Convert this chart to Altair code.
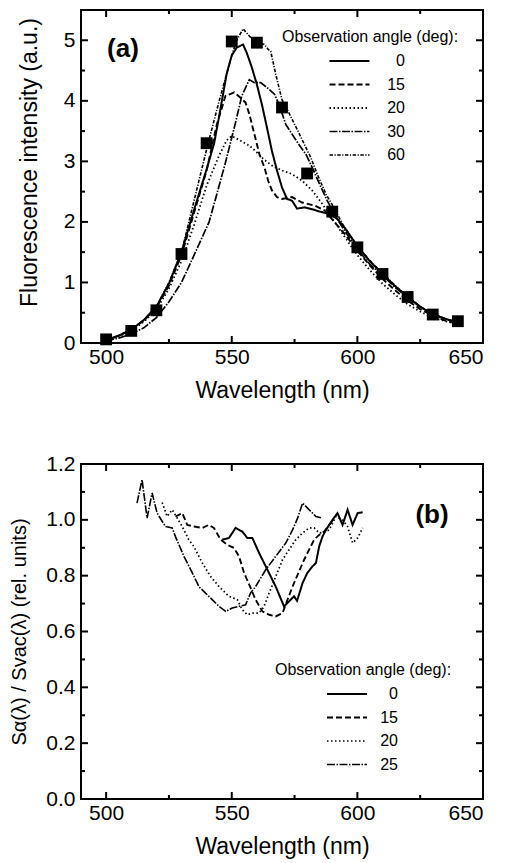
import altair as alt
import pandas as pd

FONT = "Liberation Sans"

# ---------------- Panel (a): fluorescence spectra ----------------
A_ANGLES = ["0", "15", "20", "30", "60"]
A_DASH = [[1, 0], [6, 3], [1.5, 2.5], [8, 1.5, 1.5, 1.5], [3.5, 1.5, 1.2, 1.5]]
A_WIDTH = [2.0, 1.6, 1.4, 1.3, 1.2]

A0_WL = [500, 505, 510, 515, 520, 525, 530, 535, 540, 543, 545, 548, 550, 552, 554.5, 556, 558, 560,
         562, 564, 566, 568, 570, 572, 574, 576, 579, 582, 585, 589, 592, 595, 600, 605, 610, 615,
         620, 625, 630, 635, 640]
A0_I = [0.05, 0.12, 0.22, 0.38, 0.6, 0.98, 1.5, 2.2, 2.87, 3.3, 3.75, 4.45, 4.75, 4.88, 4.93, 4.79,
        4.55, 4.27, 3.94, 3.56, 3.17, 2.85, 2.57, 2.38, 2.35, 2.22, 2.24, 2.21, 2.17, 2.13, 2.05, 1.9,
        1.6, 1.35, 1.14, 0.94, 0.76, 0.6, 0.47, 0.4, 0.33]

A15_WL = [500, 505, 510, 515, 520, 525, 530, 535, 540, 544, 547.5, 551, 553.5, 555.5, 557, 559, 561,
          563, 564.5, 566, 568, 570, 574, 578, 583, 587, 591, 595, 600, 605, 610, 615, 620, 625, 630,
          635, 640]
A15_I = [0.05, 0.12, 0.22, 0.37, 0.58, 0.95, 1.45, 2.15, 2.85, 3.6, 4.08, 4.14, 4.05, 3.97, 3.78,
         3.45, 3.12, 2.9, 2.68, 2.52, 2.41, 2.38, 2.41, 2.32, 2.27, 2.19, 1.99, 1.8, 1.52, 1.28, 1.06,
         0.87, 0.7, 0.56, 0.45, 0.37, 0.31]

A20_WL = [500, 505, 510, 515, 520, 525, 530, 535, 540, 545, 548, 550, 553.5, 557, 559.5, 562, 566,
          570, 574, 578, 582, 586, 590, 595, 600, 605, 610, 615, 620, 625, 630, 635, 640]
A20_I = [0.05, 0.11, 0.2, 0.35, 0.55, 0.9, 1.35, 1.95, 2.6, 3.1, 3.35, 3.42, 3.34, 3.26, 3.17, 3.06,
         2.93, 2.85, 2.79, 2.68, 2.52, 2.3, 2.06, 1.75, 1.45, 1.2, 0.98, 0.8, 0.64, 0.52, 0.42, 0.36,
         0.31]

A30_WL = [500, 505, 510, 515, 520, 525, 530, 535, 541, 544, 547.5, 551.5, 554, 557, 559, 561.5, 564,
          567, 569, 571.5, 574, 577, 579.5, 582, 585, 588, 591.5, 595, 600, 605, 610, 615, 620, 625,
          630, 635, 640]
A30_I = [0.04, 0.08, 0.15, 0.25, 0.42, 0.68, 1.0, 1.45, 2.0, 2.45, 2.98, 3.64, 4.08, 4.35, 4.3, 4.3,
         4.22, 4.11, 3.92, 3.61, 3.45, 3.26, 3.12, 2.9, 2.62, 2.35, 2.08, 1.85, 1.55, 1.3, 1.12, 0.92,
         0.75, 0.6, 0.48, 0.4, 0.34]

A60_WL = [500, 505, 510, 515, 520, 525, 530, 535, 540, 545, 550, 552, 554.5, 557, 559, 563, 564.5,
          565.5, 567.5, 570, 573, 576, 579.5, 581.5, 584, 587.5, 591, 594, 600, 605, 610, 615, 620,
          625, 630, 635, 640]
A60_I = [0.05, 0.12, 0.22, 0.38, 0.6, 1.0, 1.5, 2.35, 3.2, 4.0, 4.75, 5.0, 5.19, 5.07, 4.99, 4.93,
         4.85, 4.82, 4.44, 4.02, 3.78, 3.53, 3.23, 3.06, 2.79, 2.46, 2.21, 1.97, 1.6, 1.36, 1.15, 0.95,
         0.77, 0.6, 0.48, 0.4, 0.34]

MARK_WL = [500, 510, 520, 530, 540, 550, 560, 570, 580, 590, 600, 610, 620, 630, 640]
MARK_I = [0.06, 0.2, 0.54, 1.47, 3.3, 4.98, 4.96, 3.89, 2.8, 2.17, 1.58, 1.14, 0.76, 0.47, 0.36]

# ---------------- Panel (b): ratio spectra ----------------
B_ANGLES = ["0", "15", "20", "25"]
B_DASH = [[1, 0], [6, 3], [1.5, 2.5], [8, 1.5, 1.5, 1.5]]
B_WIDTH = [2.0, 1.6, 1.4, 1.3]

B0_WL = [546.2, 548.9, 551.5, 554.2, 556.2, 558.2, 560.9, 564.2, 567.5, 570.8, 572.8, 574.8, 576.0,
         578.2, 580.1, 582.1, 583.5, 584.8, 586.1, 587.5, 590.1, 592.1, 594.1, 596.1, 598.1, 600.1,
         602.1]
B0_R = [0.929, 0.935, 0.971, 0.958, 0.935, 0.935, 0.881, 0.821, 0.761, 0.69, 0.708, 0.726, 0.71,
        0.774, 0.81, 0.833, 0.845, 0.905, 0.94, 0.964, 1.0, 1.024, 0.982, 1.036, 0.982, 1.024, 1.027]

B15_WL = [527.6, 530.3, 532.3, 535.0, 538.3, 540.9, 542.9, 545.6, 548.2, 550.9, 552.9, 554.9, 557.5,
          559.5, 562.2, 564.9, 567.5, 570.2, 572.2, 574.2, 576.2, 578.8, 580.8, 582.8, 584.8, 586.8,
          588.8, 590.5]
B15_R = [1.012, 1.024, 0.982, 0.976, 0.971, 0.982, 0.971, 0.929, 0.911, 0.899, 0.869, 0.81, 0.756,
         0.714, 0.672, 0.66, 0.654, 0.666, 0.714, 0.761, 0.803, 0.857, 0.893, 0.929, 0.946, 0.958,
         0.982, 1.0]

B20_WL = [522.3, 524.3, 526.3, 528.3, 530.3, 532.9, 534.9, 538.3, 541.6, 544.9, 548.9, 552.2, 554.2,
          556.2, 558.2, 560.9, 562.9, 564.9, 567.5, 570.2, 572.8, 575.5, 578.2, 580.8, 582.8, 584.8,
          586.5, 588.8, 591.4, 594.1, 596.1, 598.1, 600.1, 602.1]
B20_R = [1.062, 1.012, 1.036, 1.006, 0.976, 0.929, 0.905, 0.845, 0.797, 0.761, 0.726, 0.714, 0.678,
         0.66, 0.666, 0.666, 0.69, 0.738, 0.797, 0.857, 0.893, 0.929, 0.953, 0.971, 0.971, 0.953,
         0.955, 0.964, 1.012, 1.0, 0.976, 0.917, 0.935, 0.971]

B25_WL = [512.3, 514.3, 516.3, 518.3, 520.3, 523.6, 526.3, 527.6, 531.0, 534.3, 537.0, 540.9, 544.9,
          547.6, 550.2, 552.9, 555.5, 557.5, 559.5, 563.5, 567.5, 571.5, 574.2, 576.2, 578.2, 580.8,
          583.5, 586.1]
B25_R = [1.06, 1.144, 1.006, 1.096, 1.024, 0.976, 0.971, 0.94, 0.869, 0.81, 0.76, 0.726, 0.69, 0.672,
         0.684, 0.69, 0.696, 0.738, 0.761, 0.821, 0.869, 0.917, 0.964, 1.006, 1.06, 1.036, 1.012,
         1.006]

X_MAJOR = [500, 550, 600, 650]
X_MINOR = [525, 575, 625]
A_Y_LABELS = [0, 1, 2, 3, 4, 5]
A_Y_MAJOR = [1, 2, 3, 4, 5]
A_Y_MINOR = [0.5, 1.5, 2.5, 3.5, 4.5]
B_Y_LABELS = [0.0, 0.2, 0.4, 0.6, 0.8, 1.0, 1.2]
B_Y_MAJOR = [0.2, 0.4, 0.6, 0.8, 1.0]
B_Y_MINOR = [0.1, 0.3, 0.5, 0.7, 0.9, 1.1]

X_DOMAIN = [490, 650]
A_Y_DOMAIN = [0, 5.5]
B_Y_DOMAIN = [0, 1.2]


def long_df(series):
    rows = []
    for ang, xs, ys in series:
        for x, y in zip(xs, ys):
            rows.append({"wl": x, "val": y, "angle": ang})
    return pd.DataFrame(rows)


def tick_layer(xs, ys, xdom, ydom, W, H, xmaj, xmin, ymaj, ymin, lmaj=7, lmin=4):
    """Inward frame ticks on all four sides, drawn as rules through the scales."""
    kx = (xdom[1] - xdom[0]) / W
    ky = (ydom[1] - ydom[0]) / H
    rows = []
    for vals, L in [(xmaj, lmaj), (xmin, lmin)]:
        for v in vals:
            rows.append({"wl": v, "wl2": v, "val": ydom[0], "val2": ydom[0] + L * ky})
            rows.append({"wl": v, "wl2": v, "val": ydom[1], "val2": ydom[1] - L * ky})
    for vals, L in [(ymaj, lmaj), (ymin, lmin)]:
        for v in vals:
            rows.append({"wl": xdom[0], "wl2": xdom[0] + L * kx, "val": v, "val2": v})
            rows.append({"wl": xdom[1], "wl2": xdom[1] - L * kx, "val": v, "val2": v})
    return alt.Chart(pd.DataFrame(rows)).mark_rule(color="black", strokeWidth=2).encode(
        x=alt.X("wl:Q", scale=xs), x2="wl2:Q",
        y=alt.Y("val:Q", scale=ys), y2="val2:Q",
    )


def legend(x, y, sym_off, lab_off):
    return alt.Legend(
        title="Observation angle (deg):", orient="none", legendX=x, legendY=y,
        symbolType="M-5,0H5", symbolSize=64, symbolStrokeWidth=1.5, symbolStrokeColor="black",
        symbolOffset=sym_off, labelAlign="right", labelOffset=lab_off,
        titleFontSize=16, labelFontSize=16, titleFontWeight="normal", titleFont=FONT,
        labelFont=FONT, titleColor="black", labelColor="black", titlePadding=8, rowPadding=7.5,
        padding=0, titleLimit=400, labelLimit=100,
    )


# ---------------- Build panel (a) ----------------
WA, HA = 402, 333
xs_a = alt.Scale(domain=X_DOMAIN, nice=False, zero=False)
ys_a = alt.Scale(domain=A_Y_DOMAIN, nice=False, zero=False)

df_a = long_df([("0", A0_WL, A0_I), ("15", A15_WL, A15_I), ("20", A20_WL, A20_I),
                ("30", A30_WL, A30_I), ("60", A60_WL, A60_I)])

lines_a = alt.Chart(df_a).mark_line(color="black").encode(
    x=alt.X("wl:Q", scale=xs_a,
            axis=alt.Axis(title="Wavelength (nm)", values=X_MAJOR, format="d",
                          labelPadding=3, titlePadding=12)),
    y=alt.Y("val:Q", scale=ys_a,
            axis=alt.Axis(title="Fluorescence intensity (a.u.)", values=A_Y_LABELS, format="d",
                          labelPadding=6, titleX=-40, titleY=152)),
    strokeDash=alt.StrokeDash("angle:N", scale=alt.Scale(domain=A_ANGLES, range=A_DASH),
                              legend=legend(201, 19, 59.5, 47.5)),
    strokeWidth=alt.StrokeWidth("angle:N", scale=alt.Scale(domain=A_ANGLES, range=A_WIDTH),
                                legend=None),
    order=alt.Order("wl:Q"),
)

marks_a = alt.Chart(pd.DataFrame({"wl": MARK_WL, "val": MARK_I})).mark_square(
    size=140, color="black", opacity=1).encode(
    x=alt.X("wl:Q", scale=xs_a), y=alt.Y("val:Q", scale=ys_a))

label_a = alt.Chart(pd.DataFrame({"t": ["(a)"]})).mark_text(
    font=FONT, fontSize=26, fontWeight="bold", color="black", align="center",
    baseline="middle").encode(text="t:N", x=alt.value(42), y=alt.value(39))

ticks_a = tick_layer(xs_a, ys_a, X_DOMAIN, A_Y_DOMAIN, 402, 333,
                     X_MAJOR, X_MINOR, A_Y_MAJOR, A_Y_MINOR)

panel_a = alt.layer(lines_a, marks_a, label_a, ticks_a).properties(width=WA, height=HA)

# ---------------- Build panel (b) ----------------
WB, HB = 402, 335
xs_b = alt.Scale(domain=X_DOMAIN, nice=False, zero=False)
ys_b = alt.Scale(domain=B_Y_DOMAIN, nice=False, zero=False)

df_b = long_df([("0", B0_WL, B0_R), ("15", B15_WL, B15_R), ("20", B20_WL, B20_R),
                ("25", B25_WL, B25_R)])

lines_b = alt.Chart(df_b).mark_line(color="black").encode(
    x=alt.X("wl:Q", scale=xs_b,
            axis=alt.Axis(title="Wavelength (nm)", values=X_MAJOR, format="d",
                          labelPadding=3, titlePadding=12)),
    y=alt.Y("val:Q", scale=ys_b,
            axis=alt.Axis(title="Sα(λ) / Svac(λ) (rel. units)", values=B_Y_LABELS, format=".1f",
                          labelPadding=6, titleX=-52, titleFontSize=20)),
    strokeDash=alt.StrokeDash("angle:N", scale=alt.Scale(domain=B_ANGLES, range=B_DASH),
                              legend=legend(194, 198, 64, 43)),
    strokeWidth=alt.StrokeWidth("angle:N", scale=alt.Scale(domain=B_ANGLES, range=B_WIDTH),
                                legend=None),
    order=alt.Order("wl:Q"),
)

label_b = alt.Chart(pd.DataFrame({"t": ["(b)"]})).mark_text(
    font=FONT, fontSize=26, fontWeight="bold", color="black", align="center",
    baseline="middle").encode(text="t:N", x=alt.value(351), y=alt.value(51))

ticks_b = tick_layer(xs_b, ys_b, X_DOMAIN, B_Y_DOMAIN, 402, 335,
                     X_MAJOR, X_MINOR, B_Y_MAJOR, B_Y_MINOR)

panel_b = alt.layer(lines_b, label_b, ticks_b).properties(width=WB, height=HB)

chart = alt.vconcat(panel_a, panel_b, spacing=49).resolve_scale(
    strokeDash="independent", strokeWidth="independent"
).properties(padding=0).configure(font=FONT).configure_view(
    stroke="black", strokeWidth=2
).configure_axis(
    domain=False, ticks=False, grid=False, labelFontSize=21, titleFontSize=23,
    labelColor="black", titleColor="black", titleFontWeight="normal",
    labelFont=FONT, titleFont=FONT,
)

chart.save("out.html", embed_options={"renderer": "svg", "actions": False})
